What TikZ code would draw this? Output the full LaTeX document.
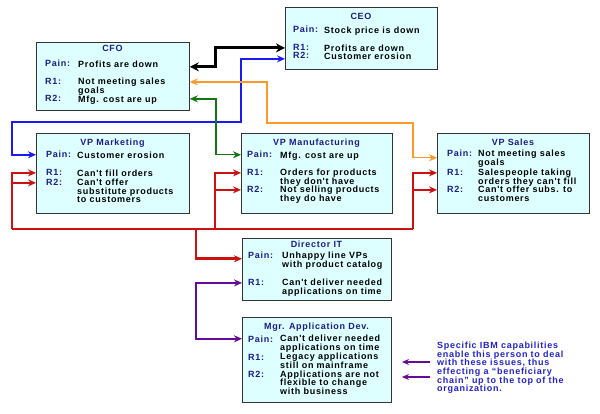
\documentclass[tikz,border=0pt]{standalone}
\usepackage{fontspec}
\usepackage{xcolor}
\usetikzlibrary{arrows.meta, calc}

\newfontfamily\chartfont[LetterSpace=8]{Liberation Sans}

\definecolor{boxfill}{HTML}{DDFFFF}
\definecolor{navy}{HTML}{1C1C8A}
\definecolor{noteblue}{HTML}{2222CC}
\definecolor{linkred}{HTML}{CC1111}
\definecolor{linkorange}{HTML}{FF9A2A}
\definecolor{linkgreen}{HTML}{127712}
\definecolor{linkblue}{HTML}{1A1AF5}
\definecolor{linkpurple}{HTML}{660A99}

\begin{document}
\begin{tikzpicture}[x=1pt, y=-1pt,
    font=\chartfont\bfseries\fontsize{9pt}{8.6pt}\selectfont,
    box/.style={draw=black!80, line width=0.8pt, fill=boxfill, anchor=north west, inner sep=0pt},
    ttl/.style={text=navy, anchor=base, inner sep=0pt},
    lbl/.style={text=navy, anchor=base west, inner sep=0pt},
    txt/.style={anchor=north west, yshift=7pt, align=left, inner sep=0pt,
        execute at begin node={\rule{0pt}{7pt}}},
    >={Stealth[length=8pt, width=7pt]},
    blacklink/.style={black, line width=3pt, >={Stealth[length=9pt, width=9pt]}},
    bluelink/.style={linkblue, line width=2pt},
    orangelink/.style={linkorange, line width=1.4pt},
    greenlink/.style={linkgreen, line width=1.4pt},
    redlink/.style={linkred, line width=2.6pt},
    purplelink/.style={linkpurple, line width=2pt},
    notelink/.style={linkpurple, line width=1.2pt, >={Stealth[length=7pt, width=6pt]}}]

    \useasboundingbox (0,0) rectangle (600,414);

    % CEO
    \node[box, minimum width=152pt, minimum height=62pt] (ceo) at (285,7) {};
    \node[ttl] (ceoT) at (361,20) {CEO};
    \node[lbl] (ceoP) at (293,33) {Pain:};
    \node[txt] (ceoPt) at (324,33) {Stock price is down};
    \node[lbl] (ceoR1) at (293,51) {R1:};
    \node[txt] (ceoR1t) at (324,51) {Profits are down};
    \node[lbl] (ceoR2) at (293,59) {R2:};
    \node[txt] (ceoR2t) at (324,59) {Customer erosion};

    % CFO
    \node[box, minimum width=153pt, minimum height=68pt] (cfo) at (36,42) {};
    \node[ttl] (cfoT) at (112.5,52) {CFO};
    \node[lbl] (cfoP) at (45,67) {Pain:};
    \node[txt] (cfoPt) at (78,67) {Profits are down};
    \node[lbl] (cfoR1) at (45,85) {R1:};
    \node[txt] (cfoR1t) at (78,85) {Not meeting sales\\goals};
    \node[lbl] (cfoR2) at (45,102) {R2:};
    \node[txt] (cfoR2t) at (78,102) {Mfg. cost are up};

    % VP Marketing
    \node[box, minimum width=153pt, minimum height=80pt] (vpmk) at (36,133) {};
    \node[ttl] (vpmkT) at (112.5,146) {VP Marketing};
    \node[lbl] (vpmkP) at (46,158) {Pain:};
    \node[txt] (vpmkPt) at (77,158) {Customer erosion};
    \node[lbl] (vpmkR1) at (46,176) {R1:};
    \node[txt] (vpmkR1t) at (77,176) {Can't fill orders};
    \node[lbl] (vpmkR2) at (46,186) {R2:};
    \node[txt] (vpmkR2t) at (77,186) {Can't offer\\substitute products\\to customers};

    % VP Manufacturing
    \node[box, minimum width=151pt, minimum height=80pt] (vpmf) at (241,133) {};
    \node[ttl] (vpmfT) at (316.5,146) {VP Manufacturing};
    \node[lbl] (vpmfP) at (247,158) {Pain:};
    \node[txt] (vpmfPt) at (280,158) {Mfg. cost are up};
    \node[lbl] (vpmfR1) at (247,176) {R1:};
    \node[txt] (vpmfR1t) at (280,176) {Orders for products\\they don't have};
    \node[lbl] (vpmfR2) at (247,193) {R2:};
    \node[txt] (vpmfR2t) at (280,193) {Not selling products\\they do have};

    % VP Sales
    \node[box, minimum width=152pt, minimum height=80pt] (vps) at (437,133) {};
    \node[ttl] (vpsT) at (513,146) {VP Sales};
    \node[lbl] (vpsP) at (447,157) {Pain:};
    \node[txt] (vpsPt) at (478,157) {Not meeting sales\\goals};
    \node[lbl] (vpsR1) at (447,176) {R1:};
    \node[txt] (vpsR1t) at (478,176) {Salespeople taking\\orders they can't fill};
    \node[lbl] (vpsR2) at (447,193) {R2:};
    \node[txt] (vpsR2t) at (478,193) {Can't offer subs. to\\customers};

    % Director IT
    \node[box, minimum width=149pt, minimum height=62pt] (dit) at (242,238) {};
    \node[ttl] (ditT) at (316.5,248) {Director IT};
    \node[lbl] (ditP) at (248,259) {Pain:};
    \node[txt] (ditPt) at (282,259) {Unhappy line VPs\\with product catalog};
    \node[lbl] (ditR1) at (248,286) {R1:};
    \node[txt] (ditR1t) at (282,286) {Can't deliver needed\\applications on time};

    % Mgr. Application Dev.
    \node[box, minimum width=149pt, minimum height=85pt] (mgr) at (242,317) {};
    \node[ttl] (mgrT) at (316.5,329) {Mgr. Application Dev.};
    \node[lbl] (mgrP) at (248,342) {Pain:};
    \node[txt] (mgrPt) at (280,342) {Can't deliver needed\\applications on time};
    \node[lbl] (mgrR1) at (248,360) {R1:};
    \node[txt] (mgrR1t) at (280,360) {Legacy applications\\still on mainframe};
    \node[lbl] (mgrR2) at (248,377.5) {R2:};
    \node[txt] (mgrR2t) at (280,377.5) {Applications are not\\flexible to change\\with business};

    \node[txt, text=noteblue] (note) at (437,349) {Specific IBM capabilities\\enable this person to deal\\with these issues, thus\\effecting a “beneficiary\\chain” up to the top of the\\organization.};

    % links between the boxes
    \draw[blacklink, <->] ($(cfo.east |- cfoP)+(0,3)$) -- ++(26,0) |- (ceo.west |- ceoR1);
    \draw[bluelink, <->] ($(ceo.west |- ceoR2)+(0,3)$) -| (241,122) -- (12,122) |- (vpmk.west |- vpmkP);
    \draw[orangelink, <->] (cfo.east |- cfoR1) -| (267,123) -- (413,123) |- ($(vps.west |- vpsP)+(0,4)$);
    \draw[greenlink, <->] (cfo.east |- cfoR2) -- ++(26,0) |- (vpmf.west |- vpmfP);

    \coordinate (busL) at (12,229);
    \coordinate (busD) at (196,229);
    \coordinate (busM) at (215,229);
    \coordinate (busR) at (413,229);
    \draw[redlink] (busL) -- (busR);
    \draw[redlink, ->] (busL) |- (vpmk.west |- vpmkR1);
    \draw[redlink, ->] (busL |- vpmkR2) -- (vpmk.west |- vpmkR2);
    \draw[redlink, ->] (busM) |- (vpmf.west |- vpmfR1);
    \draw[redlink, ->] (busM |- vpmfR2) -- (vpmf.west |- vpmfR2);
    \draw[redlink, ->] (busR) |- (vps.west |- vpsR1);
    \draw[redlink, ->] (busR |- vpsR2) -- (vps.west |- vpsR2);
    \draw[redlink, ->] (busD) |- ($(dit.west |- ditP)+(0,3)$);

    \draw[purplelink, <->] (dit.west |- ditR1) -- ++(-46,0) |- (mgr.west |- mgrP);

    \coordinate (n1) at (430,362);
    \coordinate (n2) at (430,377);
    \draw[notelink, ->] (n1) -- ++(-28,0);
    \draw[notelink, ->] (n2) -- ++(-28,0);

\end{tikzpicture}
\end{document}
